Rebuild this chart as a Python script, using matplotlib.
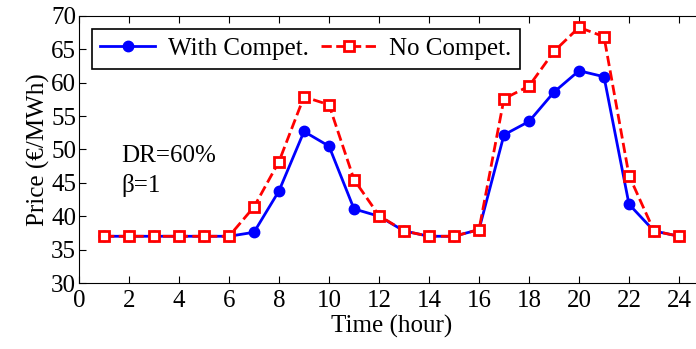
import matplotlib.pyplot as plt

hours = list(range(1, 25))
with_compet = [37, 37, 37, 37, 37, 37, 37.6, 43.8, 52.7, 50.5, 41.1, 40.0,
               37.8, 37, 37, 38.0, 52.2, 54.2, 58.6, 61.8, 60.9, 41.8, 37.8, 37]
no_compet = [37, 37, 37, 37, 37, 37, 41.4, 48.2, 57.9, 56.7, 45.5, 40.1,
             37.8, 37, 37, 38.0, 57.6, 59.5, 64.7, 68.3, 66.9, 46.1, 37.8, 37]

plt.rcParams['font.family'] = ['Liberation Serif', 'DejaVu Serif']
plt.rcParams['font.size'] = 18

fig = plt.figure(figsize=(6.96, 3.49), dpi=100)
# axes runs past the right edge, as in the original
ax = fig.add_axes([79 / 696, 1 - 283 / 349, 625 / 696, 267 / 349])

ax.plot(hours, with_compet, '-o', color='blue', lw=2, ms=7.5,
        label='With Compet.')
ax.plot(hours, no_compet, '--s', color='red', lw=2, ms=6.5, mew=2,
        mfc='white', label='No Compet.')

ax.set_xlim(0, 25)
ax.set_ylim(30, 70)
ax.set_xticks(range(0, 25, 2))
ax.set_yticks(range(30, 71, 5))
ax.tick_params(axis='both', direction='in', top=True, length=5)
ax.tick_params(axis='x', pad=5)
ax.tick_params(axis='y', pad=2)
ax.set_xlabel('Time (hour)', labelpad=2)
ax.set_ylabel('Price (€/MWh)', labelpad=1)

ax.text(1.7, 48.1, 'DR=60%')
ax.text(1.7, 43.6, 'β=1')

leg = ax.legend(loc='upper left', ncol=2, fancybox=False, edgecolor='black',
                framealpha=1, borderaxespad=0.5, handlelength=2.2,
                handletextpad=0.5, columnspacing=0.5, borderpad=0.35)
leg.get_frame().set_linewidth(1.2)

fig.savefig('out.png', dpi=100)
